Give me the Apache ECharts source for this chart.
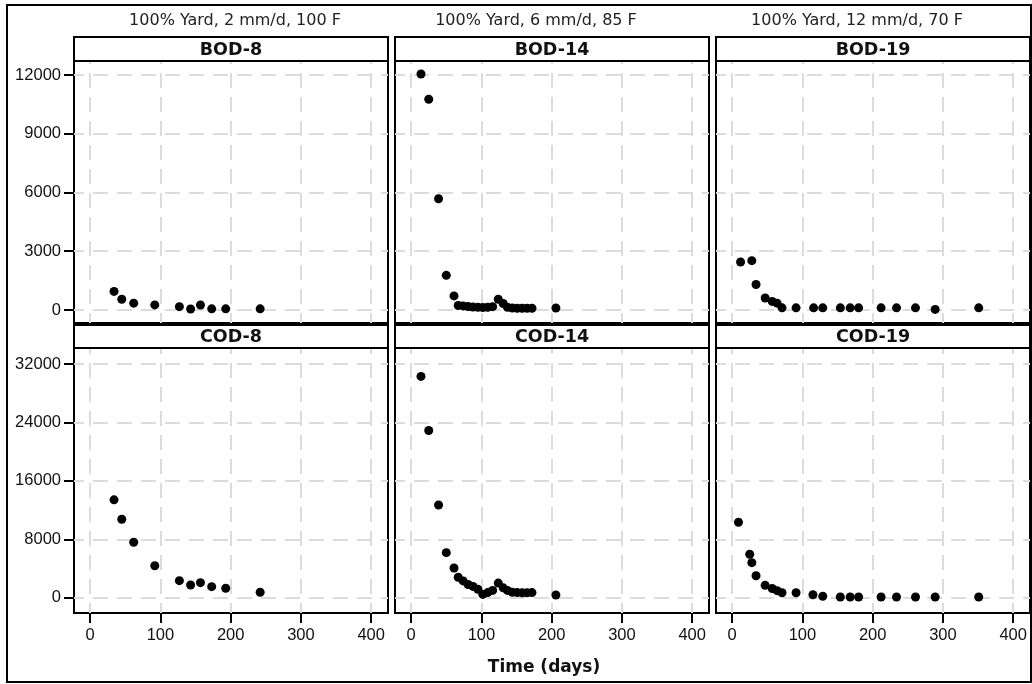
<!DOCTYPE html>
<html>
<head>
<meta charset="utf-8">
<script src="https://cdn.jsdelivr.net/npm/echarts@6/dist/echarts.min.js"></script>
<style>
html,body{margin:0;padding:0;background:#fff;}
#chart{width:1032px;height:684px;}
</style>
</head>
<body>
<div id="chart"></div>
<script>
// ---- data ----
const columnTitles = ['100% Yard, 2 mm/d, 100 F', '100% Yard, 6 mm/d, 85 F', '100% Yard, 12 mm/d, 70 F'];
const bodLabels = ['BOD-8', 'BOD-14', 'BOD-19'];
const codLabels = ['COD-8', 'COD-14', 'COD-19'];
const xTicks = [0, 100, 200, 300, 400];
const bodTicks = [0, 3000, 6000, 9000, 12000];
const codTicks = [0, 8000, 16000, 24000, 32000];
const xTitle = 'Time (days)';

const times8 = [34, 45, 62, 92, 127, 143, 157, 173, 193, 242];
const bod8 = [950, 550, 350, 260, 170, 50, 255, 60, 60, 60];
const cod8 = [13400, 10740, 7590, 4380, 2330, 1740, 2060, 1510, 1290, 740];

const times14 = [14, 25, 39, 50, 61, 67, 74, 81, 88, 95, 102, 109, 116, 124, 131, 137, 144, 151, 158, 165, 172, 206];
const bod14 = [12050, 10760, 5680, 1770, 720, 230, 210, 180, 150, 140, 130, 140, 170, 550, 330, 140, 100, 90, 90, 90, 90, 100];
const cod14 = [30300, 22900, 12700, 6170, 4070, 2800, 2300, 1800, 1550, 1150, 450, 700, 1000, 2000, 1350, 1000, 750, 700, 680, 680, 700, 370];

const timesBod19 = [12, 28, 34, 47, 57, 64, 71, 91, 116, 129, 154, 168, 180, 212, 234, 261, 289, 351];
const bod19 = [2450, 2520, 1300, 610, 440, 350, 110, 110, 110, 110, 110, 110, 110, 110, 110, 110, 30, 110];
const timesCod19 = [9, 25, 28, 34, 47, 57, 64, 71, 91, 115, 129, 154, 168, 180, 212, 234, 261, 289, 351];
const cod19 = [10330, 5950, 4800, 3000, 1690, 1260, 960, 670, 670, 400, 200, 100, 100, 100, 100, 100, 100, 100, 100];

// ---- layout ----
const colLeft = [74, 395, 716];
const colW = 314;
const titleCX = [235, 536, 857];
const rows = [
  {stripTop: 37, stripH: 24, top: 61, h: 262, min: -664, max: 12715, ticks: bodTicks, labels: bodLabels},
  {stripTop: 325, stripH: 23, top: 348, h: 265, min: -2095, max: 34191, ticks: codTicks, labels: codLabels}
];
const panels = [
  [[times8, bod8], [times14, bod14], [timesBod19, bod19]],
  [[times8, cod8], [times14, cod14], [timesCod19, cod19]]
];

const pairs = (xs, ys) => xs.map((x, i) => [x, ys[i]]);

const grid = [], xAxis = [], yAxis = [], series = [], graphic = [];
const tickFont = {fontFamily: '"Liberation Sans", Arial, sans-serif', fontSize: 16.5, color: '#111'};
const plain = v => String(v);

// outer frame
graphic.push({type: 'rect', shape: {x: 7, y: 5, width: 1024, height: 677}, style: {fill: 'none', stroke: '#000', lineWidth: 2}, z: 0, silent: true});

rows.forEach((r, ri) => {
  for (let c = 0; c < 3; c++) {
    const gi = ri * 3 + c;
    grid.push({left: colLeft[c], top: r.top, width: colW, height: r.h, show: true,
      borderColor: '#000', borderWidth: 2, backgroundColor: '#fff', containLabel: false});
    const isBottom = ri === 1, isLeft = c === 0;
    xAxis.push({type: 'value', gridIndex: gi, min: -23, max: 424, position: 'bottom',
      axisLine: {show: false, onZero: false}, splitLine: {show: false},
      axisTick: {show: isBottom, length: 10, inside: false, lineStyle: {color: '#000', width: 2}, customValues: xTicks},
      axisLabel: {show: isBottom, margin: 14, ...tickFont, formatter: plain, customValues: xTicks}
    });
    yAxis.push({type: 'value', gridIndex: gi, min: r.min, max: r.max, position: 'left',
      axisLine: {show: false, onZero: false}, splitLine: {show: false},
      axisTick: {show: isLeft, length: 10, inside: false, lineStyle: {color: '#000', width: 2}, customValues: r.ticks},
      axisLabel: {show: isLeft, margin: 13, ...tickFont, formatter: plain, customValues: r.ticks}
    });
    // dashed reference grid via markLine on an empty helper series
    series.push({type: 'scatter', xAxisIndex: gi, yAxisIndex: gi, data: [], z: 1, silent: true,
      markLine: {silent: true, symbol: ['none', 'none'], animation: false, label: {show: false},
        lineStyle: {color: '#dcdcdc', width: 2, type: [15, 9], dashOffset: 5, opacity: 1},
        emphasis: {disabled: true},
        data: xTicks.map(v => ({xAxis: v})).concat(r.ticks.map(v => ({yAxis: v})))
      }
    });
    const [xs, ys] = panels[ri][c];
    series.push({type: 'scatter', name: r.labels[c], xAxisIndex: gi, yAxisIndex: gi, z: 5,
      symbol: 'circle', symbolSize: 9, itemStyle: {color: '#000', opacity: 1}, animation: false,
      data: pairs(xs, ys)});
    // strip header
    graphic.push({type: 'rect', shape: {x: colLeft[c], y: r.stripTop, width: colW, height: r.stripH},
      style: {fill: '#fff', stroke: '#000', lineWidth: 2}, z: 10, silent: true});
    graphic.push({type: 'text', x: colLeft[c] + colW / 2, y: r.stripTop + r.stripH / 2 + 1, z: 11, silent: true,
      style: {text: r.labels[c], textAlign: 'center', textVerticalAlign: 'middle',
        font: 'bold 17.5px "DejaVu Sans", Verdana, sans-serif', fill: '#111'}});
  }
});

columnTitles.forEach((t, c) => {
  graphic.push({type: 'text', x: titleCX[c], y: 21, z: 11, silent: true,
    style: {text: t, textAlign: 'center', textVerticalAlign: 'middle',
      font: '16px "DejaVu Sans", Verdana, sans-serif', fill: '#222'}});
});
graphic.push({type: 'text', x: 544, y: 668, z: 11, silent: true,
  style: {text: xTitle, textAlign: 'center', textVerticalAlign: 'middle',
    font: 'bold 17px "DejaVu Sans", Verdana, sans-serif', fill: '#111'}});

const chart = echarts.init(document.getElementById('chart'), null, {renderer: 'canvas'});
chart.setOption({animation: false, backgroundColor: '#fff', grid, xAxis, yAxis, series, graphic});
</script>
</body>
</html>
